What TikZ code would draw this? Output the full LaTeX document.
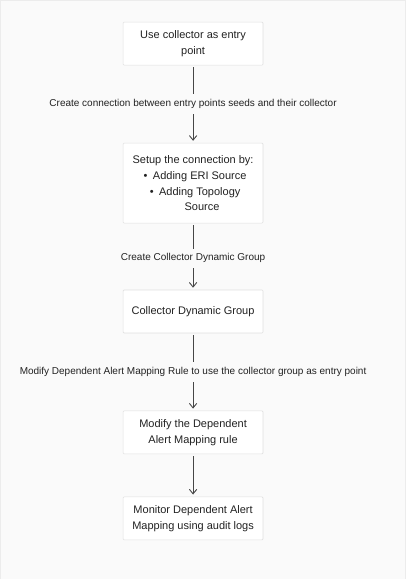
\documentclass[tikz,border=0pt]{standalone}
\usepackage{fontspec}
\setmainfont{Liberation Sans}
\usepackage{tikz}
\usetikzlibrary{
  arrows.meta,
  positioning
}
\definecolor{pagecolor}{RGB}{250, 250, 250}
\definecolor{pageedge}{RGB}{236, 236, 236}
\definecolor{boxedge}{RGB}{224, 224, 224}
\definecolor{textcolor}{RGB}{34, 34, 34}
\definecolor{arrowcolor}{RGB}{70, 70, 70}
\tikzset{
stepbox/.style={
  draw=boxedge,
  fill=white,
  line width=0.6pt,
  rounded corners=1pt,
  minimum width=140pt,
  align=center,
  font=\fontsize{11}{16}\selectfont,
  text=textcolor
},
edgelabel/.style={
  fill=pagecolor,
  font=\fontsize{10}{12}\selectfont,
  text=textcolor,
  inner sep=5pt
},
arrow/.style={
  -{Straight Barb[length=1.6mm,width=2.6mm]},
  line width=0.9pt,
  draw=arrowcolor
}
}

\begin{document}
\begin{tikzpicture}[x=1pt,y=-1pt]
  \draw[fill=pagecolor, draw=pageedge] (0,0) rectangle (405,579);
  % steps
  \node[stepbox, minimum height=43pt] (collector) at (193,43.5) {Use collector as entry\\point};
  \node[stepbox, minimum height=80pt] (setup) at (193,183) {Setup the connection by:\\
    \hspace{4pt}\textbullet\enspace Adding ERI Source\\
    \hspace{4pt}\textbullet\enspace Adding Topology\\
    \hspace{18pt}Source};
  \node[stepbox, minimum height=43pt] (group) at (193,311.5) {Collector Dynamic Group};
  \node[stepbox, minimum height=43pt] (modify) at (193,432.5) {Modify the Dependent\\Alert Mapping rule};
  \node[stepbox, minimum height=43pt] (monitor) at (193,518.5) {Monitor Dependent Alert\\Mapping using audit logs};
  % connectors
  \draw[arrow] ([yshift=-2pt]collector.south) -- node[edgelabel] (seedlabel) {Create connection between entry points seeds and their collector} ([yshift=2pt]setup.north);
  \draw[arrow] ([yshift=-2pt]setup.south) -- node[edgelabel, pos=0.53] (grouplabel) {Create Collector Dynamic Group} ([yshift=2pt]group.north);
  \draw[arrow] ([yshift=-2pt]group.south) -- node[edgelabel, pos=0.5] (rulelabel) {Modify Dependent Alert Mapping Rule to use the collector group as entry point} ([yshift=2pt]modify.north);
  \draw[arrow] ([yshift=-2pt]modify.south) -- ([yshift=2pt]monitor.north);
\end{tikzpicture}
\end{document}
